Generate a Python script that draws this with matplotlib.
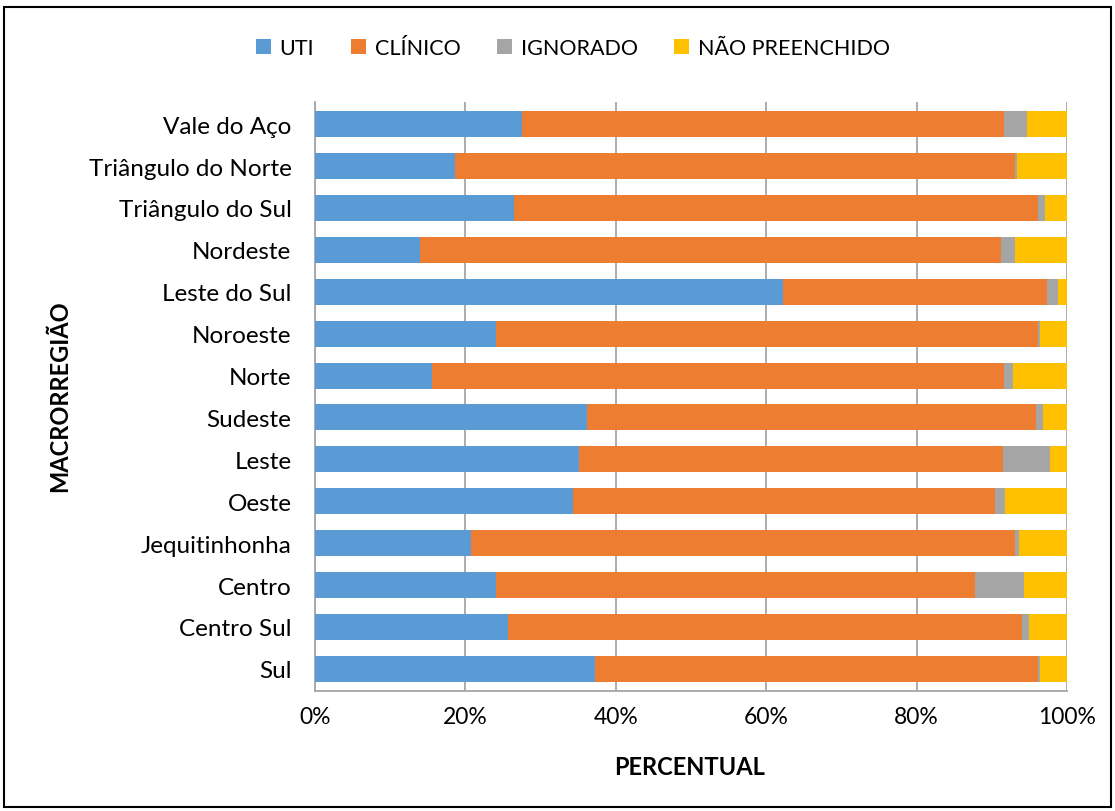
import matplotlib.pyplot as plt
import numpy as np
from matplotlib.patches import Rectangle
from matplotlib.ticker import FuncFormatter

plt.rcParams['font.family'] = ['Lato', 'DejaVu Sans']

regioes = ['Vale do Aço', 'Triângulo do Norte', 'Triângulo do Sul', 'Nordeste',
           'Leste do Sul', 'Noroeste', 'Norte', 'Sudeste', 'Leste', 'Oeste',
           'Jequitinhonha', 'Centro', 'Centro Sul', 'Sul']
uti = [27.5, 18.6, 26.5, 13.9, 62.2, 24.1, 15.5, 36.2, 35.1, 34.3, 20.7, 24.1, 25.6, 37.2]
clinico = [64.1, 74.5, 69.6, 77.3, 35.1, 72.0, 76.1, 59.7, 56.4, 56.1, 72.4, 63.7, 68.4, 58.9]
ignorado = [3.1, 0.2, 1.0, 1.9, 1.5, 0.3, 1.2, 0.9, 6.3, 1.4, 0.5, 6.5, 0.9, 0.3]
nao_preenchido = [5.3, 6.7, 2.9, 6.9, 1.2, 3.6, 7.2, 3.2, 2.2, 8.2, 6.4, 5.7, 5.1, 3.6]

series = [('UTI', uti, '#5B9BD5'),
          ('CLÍNICO', clinico, '#ED7D31'),
          ('IGNORADO', ignorado, '#A5A5A5'),
          ('NÃO PREENCHIDO', nao_preenchido, '#FFC000')]

fig = plt.figure(figsize=(11.15, 8.12), dpi=100)
ax = fig.add_axes([315 / 1115, 1 - 692 / 812, 752 / 1115, 589 / 812])

y = np.arange(len(regioes))
left = np.zeros(len(regioes))
for nome, vals, cor in series:
    vals = np.array(vals)
    ax.barh(y, vals, left=left, height=0.62, color=cor, label=nome, zorder=3)
    left += vals

ax.set_xlim(0, 100)
ax.set_ylim(len(regioes) - 0.47, -0.53)
ax.set_yticks(y)
ax.set_yticklabels(regioes, fontsize=17.5)
ax.set_xticks(np.arange(0, 101, 20))
ax.xaxis.set_major_formatter(FuncFormatter(lambda v, p: f'{v:.0f}%'))
ax.tick_params(axis='x', labelsize=16.5, length=0, pad=11)
ax.tick_params(axis='y', length=0, pad=17)
ax.grid(axis='x', color='#A6A6A6', linewidth=1.3, zorder=0)
for s in ['top', 'right']:
    ax.spines[s].set_visible(False)
for s in ['left', 'bottom']:
    ax.spines[s].set_color('#A6A6A6')
    ax.spines[s].set_linewidth(1.3)

fig.text(60 / 1115, 1 - 396 / 812, 'MACRORREGIÃO', rotation=90, fontsize=17,
         fontweight='bold', ha='center', va='center')
fig.text(690 / 1115, 1 - 768 / 812, 'PERCENTUAL', fontsize=17,
         fontweight='bold', ha='center', va='center')

fig.legend(loc='center', bbox_to_anchor=(573 / 1115, 1 - 49 / 812), ncol=4,
           frameon=False, fontsize=15.5, handlelength=0.7, handleheight=0.7,
           handletextpad=0.4, columnspacing=1.7)

fig.patches.append(Rectangle((4 / 1115, 4 / 812), 1 - 8 / 1115, 1 - 12 / 812,
                             transform=fig.transFigure, fill=False,
                             edgecolor='black', linewidth=1.5))

fig.savefig('out.png', dpi=100)
